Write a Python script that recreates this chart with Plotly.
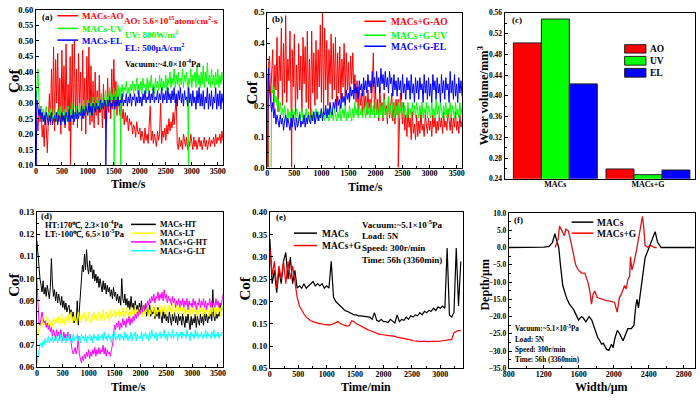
import plotly.graph_objects as go

FONT = "Liberation Serif, Times New Roman, serif"
STEP_FINE = 20    # sampling step (s) of the hand-read noisy traces in (a), (b), (d)
STEP_E = 40       # sampling step (min) of the traces in (e)

# ---------------- (a) MACs, Cof vs Time/s ----------------
a_ao = [0.27, 0.25, 0.21, 0.28, 0.24, 0.29, 0.19, 0.23, 0.16, 0.27, 0.22, 0.14, 0.25, 0.33, 0.23, 0.41, 0.26, 0.48, 0.21, 0.44,
        0.30, 0.46, 0.24, 0.38, 0.20, 0.47, 0.27, 0.42, 0.22, 0.49, 0.25, 0.36, 0.21, 0.45, 0.28, 0.49, 0.23, 0.50, 0.26, 0.41,
        0.22, 0.46, 0.29, 0.40, 0.21, 0.47, 0.25, 0.38, 0.20, 0.45, 0.27, 0.48, 0.23, 0.42, 0.24, 0.37, 0.22, 0.40, 0.26, 0.34,
        0.23, 0.39, 0.27, 0.33, 0.22, 0.36, 0.25, 0.31, 0.24, 0.38, 0.27, 0.34, 0.25, 0.41, 0.28, 0.44, 0.30, 0.37, 0.26, 0.33,
        0.29, 0.26, 0.31, 0.25, 0.28, 0.23, 0.27, 0.24, 0.26, 0.21, 0.25, 0.23, 0.24, 0.20, 0.23, 0.22, 0.19, 0.24, 0.21, 0.20,
        0.22, 0.18, 0.21, 0.19, 0.17, 0.22, 0.18, 0.20, 0.17, 0.23, 0.29, 0.18, 0.21, 0.17, 0.20, 0.18, 0.16, 0.21, 0.18, 0.20,
        0.30, 0.17, 0.21, 0.19, 0.22, 0.18, 0.23, 0.20, 0.25, 0.21, 0.24, 0.22, 0.27, 0.23, 0.30, 0.32, 0.17, 0.15, 0.19, 0.16,
        0.18, 0.15, 0.20, 0.17, 0.16, 0.19, 0.15, 0.18, 0.16, 0.20, 0.17, 0.15, 0.19, 0.16, 0.18, 0.15, 0.17, 0.19, 0.16, 0.18,
        0.15, 0.17, 0.19, 0.16, 0.18, 0.15, 0.17, 0.19, 0.16, 0.18, 0.17, 0.19, 0.16, 0.20, 0.17, 0.19, 0.18, 0.20, 0.17, 0.21,
        0.18]
a_uv = [0.30, 0.36, 0.41, 0.30, 0.26, 0.29, 0.25, 0.28, 0.24, 0.27, 0.29, 0.25, 0.27, 0.24, 0.28, 0.26, 0.24, 0.29, 0.25, 0.27,
        0.24, 0.28, 0.26, 0.25, 0.29, 0.24, 0.27, 0.25, 0.28, 0.26, 0.24, 0.29, 0.26, 0.28, 0.25, 0.30, 0.26, 0.27, 0.25, 0.29,
        0.27, 0.25, 0.30, 0.26, 0.28, 0.27, 0.31, 0.26, 0.29, 0.27, 0.31, 0.28, 0.26, 0.30, 0.28, 0.32, 0.27, 0.30, 0.28, 0.32,
        0.29, 0.31, 0.28, 0.33, 0.29, 0.31, 0.30, 0.34, 0.29, 0.32, 0.31, 0.35, 0.30, 0.33, 0.31, 0.35, 0.32, 0.34, 0.31, 0.36,
        0.32, 0.35, 0.33, 0.36, 0.32, 0.35, 0.34, 0.37, 0.33, 0.35, 0.32, 0.36, 0.34, 0.37, 0.33, 0.36, 0.34, 0.38, 0.33, 0.36,
        0.34, 0.37, 0.33, 0.38, 0.35, 0.36, 0.33, 0.38, 0.34, 0.37, 0.35, 0.39, 0.34, 0.36, 0.33, 0.38, 0.35, 0.37, 0.34, 0.39,
        0.35, 0.38, 0.34, 0.37, 0.35, 0.39, 0.34, 0.38, 0.36, 0.40, 0.35, 0.38, 0.36, 0.41, 0.35, 0.39, 0.36, 0.40, 0.35, 0.38,
        0.36, 0.41, 0.35, 0.39, 0.37, 0.40, 0.35, 0.38, 0.36, 0.41, 0.35, 0.39, 0.37, 0.40, 0.35, 0.42, 0.36, 0.39, 0.35, 0.40,
        0.36, 0.42, 0.35, 0.40, 0.37, 0.43, 0.36, 0.39, 0.35, 0.41, 0.36, 0.39, 0.35, 0.40, 0.36, 0.41, 0.35, 0.39, 0.36, 0.40,
        0.37]
a_el = [0.34, 0.31, 0.28, 0.26, 0.28, 0.25, 0.27, 0.24, 0.26, 0.23, 0.27, 0.25, 0.23, 0.26, 0.24, 0.27, 0.23, 0.25, 0.26, 0.24,
        0.27, 0.23, 0.26, 0.25, 0.23, 0.27, 0.24, 0.26, 0.23, 0.27, 0.25, 0.24, 0.28, 0.24, 0.26, 0.25, 0.28, 0.24, 0.27, 0.25,
        0.28, 0.25, 0.27, 0.26, 0.29, 0.25, 0.28, 0.26, 0.29, 0.27, 0.26, 0.30, 0.27, 0.29, 0.26, 0.30, 0.28, 0.27, 0.30, 0.28,
        0.29, 0.27, 0.31, 0.28, 0.30, 0.28, 0.31, 0.29, 0.27, 0.31, 0.29, 0.32, 0.28, 0.30, 0.29, 0.32, 0.28, 0.31, 0.29, 0.32,
        0.29, 0.31, 0.30, 0.33, 0.29, 0.31, 0.30, 0.33, 0.29, 0.32, 0.30, 0.33, 0.29, 0.32, 0.31, 0.33, 0.29, 0.32, 0.30, 0.34,
        0.30, 0.32, 0.29, 0.33, 0.31, 0.34, 0.30, 0.32, 0.31, 0.34, 0.30, 0.33, 0.31, 0.35, 0.30, 0.32, 0.31, 0.34, 0.30, 0.33,
        0.31, 0.35, 0.30, 0.33, 0.31, 0.34, 0.30, 0.35, 0.31, 0.33, 0.30, 0.34, 0.31, 0.35, 0.30, 0.33, 0.29, 0.34, 0.31, 0.35,
        0.30, 0.33, 0.29, 0.34, 0.31, 0.32, 0.29, 0.35, 0.30, 0.33, 0.29, 0.34, 0.30, 0.32, 0.28, 0.34, 0.30, 0.35, 0.29, 0.33,
        0.29, 0.34, 0.28, 0.32, 0.30, 0.35, 0.28, 0.33, 0.29, 0.34, 0.28, 0.32, 0.30, 0.35, 0.28, 0.33, 0.29, 0.34, 0.28, 0.33,
        0.30]
a_ao_spikes = [(665, 0.10)]
a_uv_spikes = [(1505, 0.10), (1635, 0.10), (2935, 0.10)]
a_el_spikes = [(5, 0.10), (1345, 0.10)]

# ---------------- (b) MACs+G, Cof vs Time/s ----------------
b_ao = [0.30, 0.33, 0.36, 0.22, 0.30, 0.38, 0.19, 0.33, 0.25, 0.42, 0.18, 0.36, 0.28, 0.45, 0.20, 0.40, 0.24, 0.49, 0.21, 0.35,
        0.28, 0.44, 0.19, 0.38, 0.26, 0.43, 0.17, 0.33, 0.22, 0.40, 0.25, 0.36, 0.18, 0.42, 0.27, 0.39, 0.21, 0.44, 0.19, 0.35,
        0.16, 0.44, 0.24, 0.37, 0.20, 0.41, 0.22, 0.38, 0.26, 0.46, 0.21, 0.50, 0.18, 0.45, 0.25, 0.41, 0.20, 0.38, 0.27, 0.43,
        0.22, 0.40, 0.25, 0.42, 0.20, 0.37, 0.24, 0.39, 0.22, 0.35, 0.26, 0.40, 0.23, 0.37, 0.25, 0.34, 0.22, 0.36, 0.27, 0.37,
        0.24, 0.30, 0.21, 0.28, 0.18, 0.26, 0.20, 0.24, 0.16, 0.27, 0.19, 0.23, 0.17, 0.25, 0.19, 0.22, 0.18, 0.26, 0.37, 0.18,
        0.25, 0.17, 0.22, 0.15, 0.26, 0.18, 0.21, 0.15, 0.24, 0.17, 0.20, 0.14, 0.23, 0.16, 0.19, 0.24, 0.15, 0.21, 0.14, 0.22,
        0.17, 0.22, 0.16, 0.24, 0.19, 0.14, 0.21, 0.12, 0.17, 0.10, 0.19, 0.13, 0.16, 0.09, 0.18, 0.11, 0.14, 0.09, 0.17, 0.10,
        0.15, 0.11, 0.18, 0.12, 0.14, 0.10, 0.17, 0.13, 0.11, 0.16, 0.12, 0.15, 0.10, 0.17, 0.13, 0.16, 0.11, 0.15, 0.12, 0.17,
        0.13, 0.16, 0.11, 0.18, 0.13, 0.15, 0.12, 0.19, 0.14, 0.12, 0.17, 0.11, 0.16, 0.13, 0.18, 0.12, 0.15, 0.11, 0.17, 0.13,
        0.15]
b_uv_t0 = 80
b_uv = [0.27, 0.24, 0.26, 0.21, 0.23, 0.20, 0.22, 0.18, 0.21, 0.17, 0.19, 0.16, 0.20, 0.17, 0.15, 0.19, 0.16, 0.18, 0.15, 0.19,
        0.16, 0.18, 0.15, 0.19, 0.17, 0.15, 0.18, 0.16, 0.19, 0.15, 0.17, 0.16, 0.19, 0.15, 0.18, 0.16, 0.15, 0.19, 0.16, 0.18,
        0.15, 0.19, 0.16, 0.18, 0.15, 0.17, 0.19, 0.16, 0.18, 0.15, 0.19, 0.16, 0.17, 0.15, 0.19, 0.16, 0.18, 0.15, 0.19, 0.17,
        0.15, 0.18, 0.16, 0.20, 0.15, 0.17, 0.19, 0.16, 0.20, 0.15, 0.18, 0.16, 0.20, 0.17, 0.15, 0.19, 0.16, 0.21, 0.17, 0.19,
        0.16, 0.21, 0.17, 0.19, 0.16, 0.20, 0.18, 0.16, 0.21, 0.17, 0.19, 0.16, 0.21, 0.17, 0.20, 0.16, 0.22, 0.17, 0.19, 0.16,
        0.21, 0.17, 0.20, 0.16, 0.22, 0.17, 0.19, 0.16, 0.23, 0.17, 0.20, 0.16, 0.21, 0.18, 0.16, 0.20, 0.17, 0.21, 0.16, 0.19,
        0.17, 0.21, 0.16, 0.20, 0.18, 0.16, 0.21, 0.17, 0.19, 0.16, 0.21, 0.17, 0.20, 0.16, 0.21, 0.18, 0.16, 0.20, 0.17, 0.21,
        0.16, 0.19, 0.17, 0.21, 0.16, 0.20, 0.18, 0.16, 0.21, 0.17, 0.19, 0.16, 0.22, 0.17, 0.20, 0.16, 0.21, 0.18, 0.16, 0.20,
        0.17, 0.21, 0.16, 0.19, 0.17, 0.21, 0.16, 0.20, 0.18, 0.16, 0.21, 0.17, 0.19, 0.16, 0.21, 0.17, 0.20]
b_el = [0.00, 0.32, 0.25, 0.20, 0.18, 0.21, 0.16, 0.19, 0.14, 0.17, 0.15, 0.13, 0.17, 0.14, 0.16, 0.12, 0.15, 0.17, 0.13, 0.16,
        0.14, 0.12, 0.16, 0.13, 0.17, 0.14, 0.12, 0.16, 0.13, 0.15, 0.17, 0.13, 0.15, 0.14, 0.17, 0.13, 0.16, 0.14, 0.17, 0.15,
        0.14, 0.17, 0.15, 0.18, 0.14, 0.16, 0.18, 0.15, 0.17, 0.16, 0.19, 0.15, 0.18, 0.17, 0.20, 0.16, 0.19, 0.17, 0.21, 0.18,
        0.17, 0.21, 0.19, 0.22, 0.18, 0.23, 0.20, 0.22, 0.19, 0.24, 0.21, 0.23, 0.20, 0.25, 0.22, 0.24, 0.21, 0.26, 0.23, 0.25,
        0.22, 0.27, 0.24, 0.26, 0.22, 0.28, 0.25, 0.27, 0.23, 0.29, 0.25, 0.28, 0.24, 0.30, 0.26, 0.28, 0.24, 0.31, 0.26, 0.29,
        0.24, 0.31, 0.26, 0.29, 0.24, 0.32, 0.27, 0.30, 0.25, 0.31, 0.26, 0.29, 0.24, 0.31, 0.27, 0.29, 0.23, 0.30, 0.25, 0.28,
        0.23, 0.29, 0.25, 0.28, 0.22, 0.30, 0.24, 0.27, 0.22, 0.29, 0.25, 0.28, 0.22, 0.30, 0.24, 0.27, 0.21, 0.29, 0.24, 0.28,
        0.22, 0.29, 0.25, 0.27, 0.21, 0.30, 0.24, 0.28, 0.22, 0.29, 0.23, 0.27, 0.21, 0.30, 0.25, 0.28, 0.22, 0.29, 0.24, 0.27,
        0.21, 0.30, 0.24, 0.28, 0.22, 0.29, 0.25, 0.27, 0.21, 0.31, 0.24, 0.28, 0.22, 0.30, 0.23, 0.27, 0.21, 0.29, 0.24, 0.28,
        0.23]
b_ao_spikes = [(15, 0.0), (450, 0.0), (2420, 0.0)]
b_uv_spikes = [(70, 0.0)]

# ---------------- (c) wear volume ----------------
wear_groups = ["MACs", "MACs+G"]
wear_ao = [0.502, 0.259]
wear_uv = [0.548, 0.248]
wear_el = [0.423, 0.257]

# ---------------- (d) HT / LT, Cof vs Time/s ----------------
d_macs_ht = [0.117, 0.110, 0.104, 0.100, 0.097, 0.094, 0.099, 0.093, 0.096, 0.092, 0.097, 0.094, 0.091, 0.096, 0.109, 0.098, 0.092, 0.095, 0.090, 0.094,
             0.089, 0.093, 0.090, 0.088, 0.092, 0.087, 0.090, 0.086, 0.089, 0.085, 0.087, 0.088, 0.084, 0.086, 0.082, 0.085, 0.080, 0.083, 0.081, 0.090,
             0.079, 0.086, 0.096, 0.101, 0.106, 0.103, 0.111, 0.104, 0.113, 0.105, 0.102, 0.108, 0.103, 0.106, 0.100, 0.104, 0.099, 0.102, 0.098, 0.101,
             0.096, 0.100, 0.097, 0.094, 0.099, 0.095, 0.098, 0.093, 0.097, 0.094, 0.096, 0.092, 0.095, 0.091, 0.096, 0.092, 0.094, 0.090, 0.093, 0.089,
             0.092, 0.088, 0.100, 0.091, 0.089, 0.093, 0.088, 0.091, 0.087, 0.090, 0.086, 0.092, 0.087, 0.089, 0.085, 0.090, 0.086, 0.088, 0.085, 0.089,
             0.085, 0.090, 0.084, 0.088, 0.085, 0.089, 0.083, 0.087, 0.084, 0.088, 0.083, 0.086, 0.084, 0.087, 0.082, 0.086, 0.083, 0.087, 0.082, 0.086,
             0.083, 0.080, 0.086, 0.082, 0.085, 0.081, 0.084, 0.080, 0.085, 0.082, 0.079, 0.084, 0.081, 0.085, 0.080, 0.083, 0.079, 0.084, 0.081, 0.083,
             0.079, 0.084, 0.080, 0.078, 0.083, 0.080, 0.084, 0.081, 0.077, 0.083, 0.079, 0.082, 0.080, 0.084, 0.078, 0.083, 0.081, 0.079, 0.084, 0.080,
             0.083, 0.079, 0.085, 0.081, 0.084, 0.080, 0.083, 0.082, 0.086, 0.081, 0.095, 0.083, 0.081, 0.086, 0.082, 0.084, 0.083, 0.089, 0.085, 0.087,
             0.088]
d_macs_lt = [0.070, 0.075, 0.078, 0.081, 0.079, 0.082, 0.078, 0.081, 0.079, 0.083, 0.080, 0.078, 0.082, 0.079, 0.081, 0.078, 0.083, 0.080, 0.079, 0.082,
             0.080, 0.083, 0.079, 0.081, 0.084, 0.080, 0.082, 0.079, 0.083, 0.081, 0.084, 0.080, 0.082, 0.085, 0.080, 0.083, 0.081, 0.084, 0.080, 0.082,
             0.085, 0.081, 0.083, 0.080, 0.084, 0.082, 0.085, 0.080, 0.083, 0.081, 0.085, 0.082, 0.080, 0.084, 0.081, 0.085, 0.082, 0.084, 0.081, 0.083,
             0.085, 0.081, 0.084, 0.082, 0.086, 0.081, 0.083, 0.085, 0.082, 0.084, 0.081, 0.086, 0.082, 0.084, 0.083, 0.086, 0.082, 0.085, 0.083, 0.086,
             0.082, 0.085, 0.083, 0.087, 0.082, 0.085, 0.084, 0.087, 0.083, 0.085, 0.082, 0.087, 0.084, 0.086, 0.083, 0.088, 0.084, 0.086, 0.083, 0.087,
             0.084, 0.086, 0.083, 0.088, 0.084, 0.086, 0.085, 0.088, 0.083, 0.086, 0.084, 0.088, 0.085, 0.087, 0.083, 0.088, 0.084, 0.086, 0.085, 0.088,
             0.083, 0.087, 0.085, 0.088, 0.084, 0.086, 0.083, 0.088, 0.085, 0.087, 0.084, 0.089, 0.083, 0.086, 0.085, 0.088, 0.084, 0.087, 0.083, 0.088,
             0.085, 0.087, 0.083, 0.088, 0.084, 0.086, 0.085, 0.089, 0.083, 0.087, 0.084, 0.088, 0.085, 0.086, 0.083, 0.088, 0.084, 0.087, 0.085, 0.089,
             0.083, 0.087, 0.084, 0.088, 0.085, 0.086, 0.083, 0.088, 0.084, 0.087, 0.085, 0.089, 0.083, 0.087, 0.084, 0.088, 0.085, 0.087, 0.083, 0.088,
             0.086]
d_g_ht = [0.100, 0.085, 0.080, 0.079, 0.083, 0.085, 0.082, 0.080, 0.081, 0.078, 0.080, 0.077, 0.079, 0.076, 0.078, 0.074, 0.077, 0.075, 0.073, 0.077,
          0.074, 0.076, 0.073, 0.077, 0.074, 0.072, 0.076, 0.073, 0.075, 0.072, 0.076, 0.073, 0.075, 0.071, 0.068, 0.066, 0.067, 0.069, 0.066, 0.068,
          0.074, 0.066, 0.064, 0.062, 0.065, 0.063, 0.066, 0.064, 0.067, 0.065, 0.068, 0.064, 0.067, 0.065, 0.068, 0.066, 0.069, 0.065, 0.068, 0.066,
          0.069, 0.066, 0.068, 0.067, 0.070, 0.066, 0.069, 0.065, 0.068, 0.066, 0.067, 0.065, 0.068, 0.070, 0.074, 0.079, 0.077, 0.080, 0.078, 0.081,
          0.077, 0.080, 0.078, 0.082, 0.079, 0.081, 0.078, 0.082, 0.080, 0.083, 0.079, 0.082, 0.080, 0.083, 0.081, 0.084, 0.082, 0.085, 0.083, 0.086,
          0.084, 0.087, 0.085, 0.088, 0.086, 0.089, 0.087, 0.090, 0.088, 0.091, 0.089, 0.092, 0.090, 0.093, 0.089, 0.092, 0.091, 0.094, 0.090, 0.093,
          0.091, 0.094, 0.090, 0.095, 0.091, 0.093, 0.089, 0.092, 0.090, 0.091, 0.088, 0.092, 0.089, 0.091, 0.087, 0.090, 0.088, 0.091, 0.087, 0.090,
          0.088, 0.091, 0.087, 0.090, 0.088, 0.091, 0.086, 0.090, 0.088, 0.089, 0.087, 0.091, 0.088, 0.090, 0.086, 0.089, 0.088, 0.091, 0.087, 0.090,
          0.088, 0.091, 0.087, 0.090, 0.086, 0.089, 0.088, 0.091, 0.087, 0.090, 0.088, 0.089, 0.087, 0.091, 0.088, 0.090, 0.087, 0.089, 0.088, 0.091,
          0.093]
d_g_lt = [0.062, 0.065, 0.068, 0.070, 0.071, 0.069, 0.072, 0.070, 0.073, 0.071, 0.072, 0.074, 0.071, 0.073, 0.072, 0.074, 0.071, 0.073, 0.072, 0.074,
          0.071, 0.073, 0.072, 0.075, 0.071, 0.074, 0.072, 0.073, 0.071, 0.074, 0.072, 0.075, 0.072, 0.073, 0.071, 0.075, 0.072, 0.074, 0.073, 0.075,
          0.072, 0.074, 0.071, 0.075, 0.073, 0.074, 0.072, 0.075, 0.071, 0.074, 0.073, 0.075, 0.072, 0.074, 0.071, 0.075, 0.073, 0.074, 0.072, 0.075,
          0.072, 0.074, 0.073, 0.075, 0.072, 0.076, 0.073, 0.074, 0.072, 0.075, 0.073, 0.074, 0.071, 0.075, 0.073, 0.076, 0.072, 0.074, 0.073, 0.075,
          0.072, 0.075, 0.073, 0.074, 0.072, 0.076, 0.073, 0.075, 0.072, 0.074, 0.073, 0.076, 0.072, 0.075, 0.074, 0.076, 0.072, 0.075, 0.073, 0.074,
          0.073, 0.076, 0.072, 0.075, 0.074, 0.076, 0.073, 0.075, 0.072, 0.076, 0.073, 0.077, 0.074, 0.075, 0.073, 0.076, 0.072, 0.075, 0.074, 0.076,
          0.073, 0.075, 0.074, 0.077, 0.073, 0.075, 0.072, 0.076, 0.074, 0.075, 0.073, 0.077, 0.073, 0.075, 0.074, 0.076, 0.072, 0.075, 0.074, 0.076,
          0.073, 0.076, 0.074, 0.075, 0.073, 0.077, 0.074, 0.075, 0.072, 0.076, 0.074, 0.075, 0.073, 0.077, 0.074, 0.076, 0.073, 0.075, 0.074, 0.076,
          0.073, 0.075, 0.074, 0.077, 0.073, 0.076, 0.074, 0.075, 0.073, 0.076, 0.074, 0.077, 0.073, 0.075, 0.074, 0.076, 0.073, 0.075, 0.074, 0.076,
          0.075]

# ---------------- (e) long run, Cof vs Time/min ----------------
e_macs = [0.34, 0.24, 0.27, 0.22, 0.27, 0.24, 0.29, 0.31, 0.25, 0.30, 0.24, 0.27, 0.23, 0.235, 0.23,
          0.24, 0.23, 0.235, 0.24, 0.245, 0.235, 0.24, 0.235, 0.24, 0.23, 0.235, 0.23, 0.29, 0.21, 0.20,
          0.195, 0.19, 0.185, 0.18, 0.178, 0.175, 0.172, 0.17, 0.17, 0.168, 0.168, 0.167, 0.167, 0.166,
          0.165, 0.16, 0.175, 0.158, 0.155, 0.16, 0.155, 0.155, 0.153, 0.16, 0.155, 0.152, 0.17, 0.155,
          0.16, 0.158, 0.165, 0.16, 0.168, 0.165, 0.17, 0.168, 0.175, 0.17, 0.178, 0.175, 0.18, 0.178,
          0.185, 0.18, 0.188, 0.185, 0.19, 0.185, 0.32, 0.17, 0.165, 0.175, 0.32, 0.19, 0.29]
e_macs_g = [0.32, 0.26, 0.29, 0.23, 0.28, 0.25, 0.29, 0.24, 0.29, 0.25, 0.28, 0.25, 0.21, 0.19, 0.18,
            0.172, 0.165, 0.16, 0.157, 0.155, 0.153, 0.152, 0.15, 0.15, 0.148, 0.148, 0.147, 0.148,
            0.15, 0.153, 0.155, 0.15, 0.148, 0.147, 0.145, 0.146, 0.157, 0.155, 0.15, 0.148, 0.145,
            0.143, 0.14, 0.137, 0.135, 0.133, 0.13, 0.128, 0.127, 0.126, 0.125, 0.124, 0.124, 0.123,
            0.123, 0.121, 0.12, 0.119, 0.118, 0.118, 0.117, 0.115, 0.114, 0.112, 0.112, 0.111, 0.11,
            0.111, 0.111, 0.11, 0.11, 0.111, 0.111, 0.111, 0.11, 0.111, 0.112, 0.113, 0.113, 0.114,
            0.115, 0.13, 0.133, 0.135, 0.134]

# ---------------- (f) wear track profile ----------------
f_width_macs = [800, 1000, 1200, 1260, 1300, 1326, 1350, 1371, 1390, 1417, 1447, 1466, 1493, 1541,
                1560, 1597, 1630, 1654, 1680, 1718, 1748, 1760, 1785, 1815, 1840, 1860, 1880, 1917,
                1943, 1973, 1992, 2010, 2040, 2067, 2105, 2123, 2160, 2200, 2230, 2250, 2265, 2281,
                2305, 2330, 2357, 2387, 2425, 2455, 2472, 2500, 2540, 2700, 2925]
f_depth_macs = [0.0, 0.0, 0.1, 0.3, 1.5, 4.0, 2.0, 0.0, -5.0, -11.0, -13.5, -15.0, -16.4, -18.0,
                -19.0, -21.0, -20.0, -20.5, -21.5, -20.0, -21.0, -22.0, -24.0, -26.0, -27.0, -28.0,
                -27.7, -29.5, -29.8, -28.0, -29.0, -26.5, -24.0, -25.0, -27.0, -26.0, -23.5, -23.5,
                -22.5, -17.0, -15.0, -17.5, -12.6, -8.0, -3.0, -1.0, 1.5, 4.0, 4.6, 1.5, 0.0, 0.0, 0.0]
f_width_g = [1330, 1365, 1380, 1406, 1436, 1451, 1481, 1511, 1537, 1564, 1594, 1632, 1669, 1707, 1726,
             1745, 1763, 1782, 1812, 1857, 1914, 1970, 2008, 2038, 2064, 2086, 2123, 2142, 2160, 2180,
             2190, 2206, 2228, 2255, 2274, 2293, 2312, 2327, 2342, 2357, 2387, 2425, 2462, 2490]
f_depth_g = [0.0, 2.5, 6.2, 4.8, 3.4, 5.3, 4.8, 1.5, -2.3, -5.0, -6.5, -7.4, -7.4, -10.3, -12.6,
             -16.4, -13.5, -12.6, -14.5, -15.0, -15.4, -15.6, -15.9, -18.7, -14.5, -13.5, -11.0,
             -12.0, -9.3, -8.4, -2.7, -6.5, -4.6, -1.3, 1.5, 3.9, 6.7, 9.0, 5.7, 0.6, 0.1, 0.6, 0.0, 0.0]


def series(vals, step=STEP_FINE, t0=0, spikes=()):
    pts = [(t0 + step * i, v) for i, v in enumerate(vals)] + list(spikes)
    pts.sort(key=lambda p: p[0])
    return [p[0] for p in pts], [p[1] for p in pts]


RED, GREEN, BLUE = "#ff0000", "#00ff00", "#0000ff"
NOISE_W = 1.0

fig = go.Figure()


def line(xy, color, xa, ya, width=NOISE_W):
    x, y = xy
    fig.add_trace(go.Scatter(x=x, y=y, mode="lines", line=dict(color=color, width=width),
                             xaxis=xa, yaxis=ya, showlegend=False, hoverinfo="skip"))


# (a)
line(series(a_ao, spikes=a_ao_spikes), RED, "x", "y")
line(series(a_uv, spikes=a_uv_spikes), GREEN, "x", "y")
line(series(a_el, spikes=a_el_spikes), BLUE, "x", "y")
# (b)
line(series(b_ao, spikes=b_ao_spikes), RED, "x2", "y2")
line(series(b_uv, t0=b_uv_t0, spikes=b_uv_spikes), GREEN, "x2", "y2")
line(series(b_el), BLUE, "x2", "y2")
# (c)
for vals, col in [(wear_ao, RED), (wear_uv, GREEN), (wear_el, BLUE)]:
    fig.add_trace(go.Bar(x=[0, 1], y=vals, marker=dict(color=col, line=dict(color="#222", width=1)),
                         xaxis="x3", yaxis="y3", showlegend=False, hoverinfo="skip"))
# (d)
line(series(d_macs_ht), "#000000", "x4", "y4")
line(series(d_macs_lt), "#ffff00", "x4", "y4")
line(series(d_g_ht), "#ff00ff", "x4", "y4")
line(series(d_g_lt), "#00ffff", "x4", "y4")
# (e)
line(series(e_macs, step=STEP_E), "#000000", "x5", "y5", 1.2)
line(series(e_macs_g, step=STEP_E), RED, "x5", "y5", 1.2)
# (f)
line((f_width_macs, f_depth_macs), "#000000", "x6", "y6", 1.3)
line((f_width_g, f_depth_g), "#e01010", "x6", "y6", 1.3)

W, H = 700, 400


def px(x):
    return x / W


def py(y):
    return 1 - y / H


def axis(dom, rng, dtick, minor, fmt=None, size=8.5, anchor=None, **kw):
    d = dict(domain=dom, range=rng, dtick=dtick,
             showline=True, linecolor="black", linewidth=1, mirror=True,
             ticks="inside", ticklen=3, tickwidth=1, tickcolor="black",
             showgrid=False, zeroline=False, anchor=anchor, ticklabeloverflow="allow",
             tickfont=dict(family=FONT, size=size, color="black", weight="bold"))
    if minor:
        d["minor"] = dict(dtick=minor, ticks="inside", ticklen=2, tickcolor="black")
    if fmt:
        d["tickformat"] = fmt
    d.update(kw)
    return d


def xd(l, r):
    return [px(l), px(r)]


def yd(t, b):
    return [py(b), py(t)]


XS = dict(size=8, ticklabelstandoff=-2)

fig.update_layout(
    width=W, height=H, margin=dict(l=0, r=0, t=0, b=0),
    paper_bgcolor="white", plot_bgcolor="white",
    font=dict(family=FONT, color="black", weight="bold"),
    barmode="group", bargap=0.094, bargroupgap=0,
    xaxis=axis(xd(30.3, 219.8), [0, 3600], 500, 250, anchor="y", tick0=0, **XS),
    yaxis=axis(yd(5, 164.3), [0.10, 0.60], 0.05, None, ".2f", anchor="x", tick0=0.1),
    xaxis2=axis(xd(264.7, 462), [0, 3600], 500, 250, anchor="y2", tick0=0, **XS),
    yaxis2=axis(yd(7.7, 166.7), [0, 0.5], 0.1, 0.05, ".1f", anchor="x2", tick0=0),
    xaxis3=axis(xd(505, 698), [-0.549, 1.508], None, None, anchor="y3",
                tickvals=[0, 1], ticktext=wear_groups, ticks="", **XS),
    yaxis3=axis(yd(8, 178.3), [0.24, 0.56], 0.04, 0.02, ".2f", size=7.5, anchor="x3", tick0=0.24),
    xaxis4=axis(xd(31.3, 220), [0, 3600], 500, 250, anchor="y4", tick0=0, **XS),
    yaxis4=axis(yd(212.3, 371.7), [0.06, 0.13], 0.01, 0.005, ".2f", anchor="x4", tick0=0.06),
    xaxis5=axis(xd(267.3, 463.3), [0, 3405], 500, 250, anchor="y5", tick0=0, **XS),
    yaxis5=axis(yd(212.7, 372.7), [0.05, 0.40], 0.05, None, ".2f", anchor="x5", tick0=0.05),
    xaxis6=axis(xd(509.3, 697.7), [800, 2924], 400, 200, anchor="y6", tick0=800, **XS),
    yaxis6=axis(yd(213.3, 372.7), [-35, 10], 5, 2.5, ".1f", size=7.5, anchor="x6", tick0=-35),
)

ann = []
shapes = []


def text(x, y, s, size=9.5, color="black", xanchor="left", angle=0):
    ann.append(dict(x=px(x), y=py(y), xref="paper", yref="paper", text=s, showarrow=False,
                    xanchor=xanchor, yanchor="middle", textangle=angle,
                    font=dict(family=FONT, size=size, color=color, weight="bold")))


def hline(x0, x1, y, color, width=1.5):
    shapes.append(dict(type="line", xref="paper", yref="paper", x0=px(x0), x1=px(x1),
                       y0=py(y), y1=py(y), line=dict(color=color, width=width)))


def box(x0, x1, y0, y1, color):
    shapes.append(dict(type="rect", xref="paper", yref="paper", x0=px(x0), x1=px(x1),
                       y0=py(y1), y1=py(y0), fillcolor=color, line=dict(color="#222", width=1)))


# (a)
text(34, 12, "(a)", 9)
for yy, col, lab in [(11, RED, "MACs-AO"), (24, GREEN, "MACs-UV"), (36, BLUE, "MACs-EL")]:
    hline(52, 73, yy, col)
    text(75, yy + 0.5, lab, 9, col)
text(118, 15.5, "AO: 5.6×10<sup>15</sup>atom/cm<sup>2</sup>·s", 9, RED)
text(119, 30, "UV: 800W/m<sup>2</sup>", 9, GREEN)
text(119, 43, "EL: 500μA/cm<sup>2</sup>", 9, BLUE)
text(119, 60, "Vacuum:~4.0×10<sup>-4</sup>Pa", 8.5)
text(8, 78, "Cof", 15, xanchor="center", angle=-90)
text(124, 183.5, "Time/s", 12, xanchor="center")

# (b)
text(267, 14, "(b)", 9)
for yy, col, lab in [(16.7, RED, "MACs+G-AO"), (31, GREEN, "MACs+G-UV"), (42.3, BLUE, "MACs+G-EL")]:
    hline(363, 385, yy, col)
    text(388, yy + 0.5, lab, 9.5, col)
text(249, 90, "Cof", 15, xanchor="center", angle=-90)
text(364, 186.5, "Time/s", 12, xanchor="center")

# (c)
text(511, 15, "(c)", 9)
for (y0, y1), col, lab in [((40.7, 49.3), RED, "AO"), ((52.7, 61.7), GREEN, "UV"), ((65, 74), BLUE, "EL")]:
    box(626.7, 648.3, y0, y1, col)
    text(650, (y0 + y1) / 2 + 0.5, lab, 9.5)
text(483, 93, "Wear volume/mm<sup>3</sup>", 12.5, xanchor="center", angle=-90)

# (d)
text(33, 216, "(d)", 9)
text(37, 225, "HT:170℃, 2.3×10<sup>-4</sup>Pa", 8.5)
text(37, 234, "LT:-100℃, 6.5×10<sup>-5</sup>Pa", 8.5)
for yy, col, lab in [(225, "#000000", "MACs-HT"), (234, "#ffff00", "MACs-LT"),
                     (243, "#ff00ff", "MACs+G-HT"), (252, "#00ffff", "MACs+G-LT")]:
    hline(126.7, 151.7, yy, col)
    text(153.5, yy + 0.5, lab, 8)
text(8, 287, "Cof", 15, xanchor="center", angle=-90)
text(124, 391.5, "Time/s", 12, xanchor="center")

# (e)
text(271, 217, "(e)", 9)
for i, s in enumerate(["Vacuum:~5.1×10<sup>-5</sup>Pa", "Load: 5N", "Speed: 300r/min",
                       "Time: 56h (3360min)"]):
    text(359, [224.3, 236.7, 249.3, 261.7][i], s, 9)
hline(291.7, 315, 234, "#000000")
text(318, 234.5, "MACs", 9.5)
hline(291.7, 315, 246.7, RED)
text(318, 247.2, "MACs+G", 9.5)
text(242, 291, "Cof", 15, xanchor="center", angle=-90)
text(365, 392, "Time/min", 12, xanchor="center")

# (f)
text(513, 220, "(f)", 9)
hline(573, 595, 222.7, "#000000")
text(597, 223.2, "MACs", 9.5)
hline(573, 595, 234, RED)
text(597, 234.5, "MACs+G", 9.5)
for i, s in enumerate(["Vacuum:~5.1×10<sup>-5</sup>Pa", "Load: 5N", "Speed: 300r/min",
                       "Time: 56h (3360min)"]):
    text(514, [331.7, 343.3, 354.3, 364.3][i], s, 7.2)
text(485, 287, "Depth/μm", 12, xanchor="center", angle=-90)
text(603, 391.5, "Width/μm", 12, xanchor="center")

fig.update_layout(annotations=ann, shapes=shapes)
fig.write_html("out.html", config={"displayModeBar": False},
               post_script="document.body.style.margin='0px';")
